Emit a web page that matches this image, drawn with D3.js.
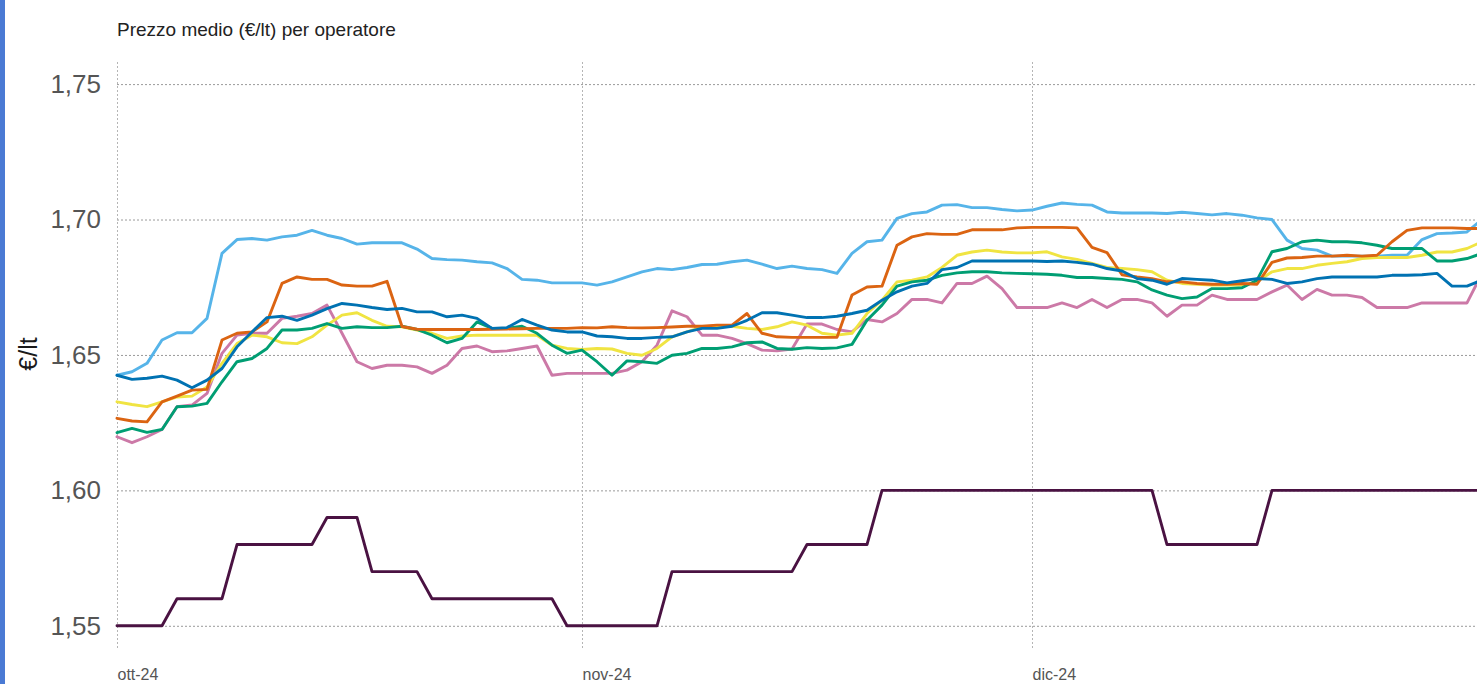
<!DOCTYPE html>
<html>
<head>
<meta charset="utf-8">
<script src="https://cdn.jsdelivr.net/npm/d3@7"></script>
<style>
  html, body { margin: 0; padding: 0; background: #fff; overflow: hidden; }
  svg { display: block; font-family: "Liberation Sans", Arial, sans-serif; }
</style>
</head>
<body>
<svg id="chart" width="1477" height="684"></svg>
<script>
// ---- Data (daily, 1 Oct 2024 onward) ----
const startDate = "2024-10-01";
const endDate = "2025-01-01";
const yTicks = [1.55, 1.60, 1.65, 1.70, 1.75];
const monthTicks = ["2024-10-01", "2024-11-01", "2024-12-01"];
const monthLabels = ["ott-24", "nov-24", "dic-24"];
const seriesNames = ["Operatore A", "Operatore B", "Operatore C", "Operatore D", "Operatore E", "Operatore F", "Pompe bianche"];
const seriesColors = ["#56B4E9", "#CC79A7", "#F0E442", "#009E73", "#DB6412", "#0072B2", "#4A1242"];

const skyValues = [1.6425,1.6438,1.6469,1.6555,1.6582,1.6582,1.6635,1.6875,1.6926,1.6930,
1.6924,1.6936,1.6942,1.6960,1.6942,1.6930,1.6909,1.6914,1.6914,1.6914,
1.6891,1.6856,1.6852,1.6850,1.6844,1.6840,1.6819,1.6779,1.6776,1.6766,
1.6766,1.6766,1.6758,1.6770,1.6788,1.6807,1.6819,1.6815,1.6823,1.6834,
1.6835,1.6844,1.6850,1.6835,1.6819,1.6828,1.6819,1.6815,1.6801,1.6875,
1.6918,1.6924,1.7004,1.7022,1.7028,1.7053,1.7055,1.7044,1.7044,1.7037,
1.7032,1.7035,1.7049,1.7061,1.7056,1.7053,1.7028,1.7024,1.7024,1.7024,
1.7022,1.7027,1.7022,1.7017,1.7022,1.7016,1.7006,1.7000,1.6924,1.6893,
1.6887,1.6865,1.6865,1.6865,1.6865,1.6868,1.6868,1.6926,1.6948,1.6950,
1.6954,1.7000];

const pinkValues = [1.6198,1.6176,1.6198,1.6225,1.6309,1.6315,1.6358,1.6506,1.6573,1.6580,
1.6580,1.6635,1.6643,1.6653,1.6684,1.6580,1.6475,1.6450,1.6462,1.6462,
1.6456,1.6432,1.6462,1.6524,1.6533,1.6512,1.6515,1.6524,1.6533,1.6425,
1.6432,1.6432,1.6432,1.6432,1.6444,1.6475,1.6536,1.6663,1.6641,1.6573,
1.6573,1.6561,1.6542,1.6518,1.6515,1.6522,1.6614,1.6614,1.6594,1.6585,
1.6631,1.6622,1.6653,1.6705,1.6705,1.6692,1.6764,1.6764,1.6791,1.6745,
1.6675,1.6675,1.6675,1.6692,1.6675,1.6705,1.6675,1.6705,1.6705,1.6692,
1.6643,1.6684,1.6684,1.6721,1.6705,1.6705,1.6705,1.6733,1.6758,1.6705,
1.6742,1.6721,1.6721,1.6712,1.6675,1.6675,1.6675,1.6692,1.6692,1.6692,
1.6692,1.6801];

const yellowValues = [1.6327,1.6317,1.6309,1.6327,1.6345,1.6348,1.6382,1.6469,1.6542,1.6573,
1.6567,1.6545,1.6542,1.6567,1.6610,1.6647,1.6656,1.6628,1.6606,1.6604,
1.6592,1.6580,1.6561,1.6570,1.6573,1.6573,1.6573,1.6573,1.6573,1.6536,
1.6524,1.6520,1.6524,1.6522,1.6506,1.6499,1.6524,1.6567,1.6585,1.6604,
1.6604,1.6606,1.6598,1.6594,1.6604,1.6622,1.6610,1.6580,1.6573,1.6580,
1.6653,1.6702,1.6770,1.6776,1.6788,1.6823,1.6868,1.6880,1.6887,1.6880,
1.6877,1.6877,1.6881,1.6862,1.6853,1.6838,1.6823,1.6819,1.6815,1.6807,
1.6776,1.6764,1.6761,1.6758,1.6758,1.6758,1.6770,1.6807,1.6819,1.6819,
1.6831,1.6838,1.6844,1.6856,1.6860,1.6860,1.6860,1.6868,1.6880,1.6880,
1.6893,1.6918];

const greenValues = [1.6213,1.6229,1.6214,1.6225,1.6309,1.6311,1.6321,1.6401,1.6475,1.6487,
1.6524,1.6592,1.6592,1.6598,1.6616,1.6598,1.6604,1.6601,1.6601,1.6606,
1.6594,1.6573,1.6545,1.6561,1.6622,1.6598,1.6598,1.6606,1.6580,1.6536,
1.6506,1.6518,1.6475,1.6425,1.6478,1.6475,1.6469,1.6499,1.6506,1.6524,
1.6524,1.6530,1.6545,1.6548,1.6524,1.6521,1.6527,1.6524,1.6526,1.6539,
1.6628,1.6684,1.6754,1.6770,1.6776,1.6794,1.6803,1.6807,1.6807,1.6803,
1.6801,1.6800,1.6798,1.6794,1.6786,1.6786,1.6782,1.6779,1.6770,1.6740,
1.6721,1.6708,1.6714,1.6745,1.6745,1.6748,1.6776,1.6881,1.6893,1.6918,
1.6924,1.6918,1.6918,1.6914,1.6905,1.6893,1.6893,1.6893,1.6847,1.6847,
1.6856,1.6875];

const orangeValues = [1.6266,1.6256,1.6253,1.6327,1.6348,1.6370,1.6373,1.6555,1.6580,1.6585,
1.6622,1.6764,1.6788,1.6779,1.6779,1.6758,1.6754,1.6754,1.6772,1.6605,
1.6595,1.6594,1.6594,1.6594,1.6594,1.6595,1.6596,1.6597,1.6598,1.6598,
1.6598,1.6601,1.6600,1.6604,1.6601,1.6600,1.6601,1.6603,1.6606,1.6606,
1.6610,1.6610,1.6653,1.6580,1.6567,1.6565,1.6565,1.6565,1.6565,1.6721,
1.6751,1.6754,1.6905,1.6936,1.6948,1.6945,1.6945,1.6962,1.6962,1.6962,
1.6969,1.6971,1.6971,1.6971,1.6969,1.6897,1.6878,1.6796,1.6788,1.6782,
1.6770,1.6770,1.6764,1.6761,1.6761,1.6764,1.6761,1.6842,1.6858,1.6860,
1.6865,1.6865,1.6868,1.6865,1.6868,1.6918,1.6960,1.6969,1.6969,1.6969,
1.6967,1.6967];

const blueValues = [1.6425,1.6410,1.6414,1.6422,1.6407,1.6379,1.6407,1.6450,1.6530,1.6585,
1.6638,1.6643,1.6628,1.6647,1.6671,1.6690,1.6684,1.6675,1.6668,1.6672,
1.6659,1.6659,1.6641,1.6647,1.6635,1.6598,1.6601,1.6631,1.6610,1.6592,
1.6585,1.6585,1.6570,1.6567,1.6561,1.6561,1.6565,1.6567,1.6585,1.6598,
1.6598,1.6606,1.6628,1.6656,1.6656,1.6647,1.6638,1.6638,1.6643,1.6653,
1.6665,1.6702,1.6733,1.6754,1.6764,1.6815,1.6823,1.6847,1.6847,1.6847,
1.6847,1.6847,1.6845,1.6847,1.6842,1.6835,1.6819,1.6810,1.6782,1.6776,
1.6761,1.6782,1.6779,1.6776,1.6766,1.6774,1.6782,1.6779,1.6764,1.6770,
1.6782,1.6788,1.6788,1.6788,1.6788,1.6794,1.6794,1.6796,1.6801,1.6754,
1.6754,1.6776];

const purpleValues = [1.55,1.55,1.55,1.55,1.56,1.56,1.56,1.56,1.58,1.58,
1.58,1.58,1.58,1.58,1.59,1.59,1.59,1.57,1.57,1.57,
1.57,1.56,1.56,1.56,1.56,1.56,1.56,1.56,1.56,1.56,
1.55,1.55,1.55,1.55,1.55,1.55,1.55,1.57,1.57,1.57,
1.57,1.57,1.57,1.57,1.57,1.57,1.58,1.58,1.58,1.58,
1.58,1.60,1.60,1.60,1.60,1.60,1.60,1.60,1.60,1.60,
1.60,1.60,1.60,1.60,1.60,1.60,1.60,1.60,1.60,1.60,
1.58,1.58,1.58,1.58,1.58,1.58,1.58,1.60,1.60,1.60,
1.60,1.60,1.60,1.60,1.60,1.60,1.60,1.60,1.60,1.60,
1.60,1.60];

const allValues = [skyValues, pinkValues, yellowValues, greenValues, orangeValues, blueValues, purpleValues];

// ---- Layout ----
const W = 1477, H = 684;
const plotLeft = 117, plotTop = 60, plotBottom = 648;

const parse = d3.utcParse("%Y-%m-%d");
const dates = d3.utcDay.range(parse(startDate), parse(endDate));

const x = d3.scaleUtc()
  .domain([parse(startDate), parse(endDate)])
  .range([plotLeft, plotLeft + 15 * dates.length]);

const y = d3.scaleLinear()
  .domain([1.5418, 1.7589])
  .range([plotBottom, plotTop]);

const svg = d3.select("#chart");

svg.append("rect").attr("x", 0).attr("y", 0).attr("width", W).attr("height", H).attr("fill", "#fff");
svg.append("rect").attr("x", 0).attr("y", 0).attr("width", 5).attr("height", H).attr("fill", "#4A7AD4");

// Title
svg.append("text")
  .attr("x", plotLeft).attr("y", 36)
  .attr("font-size", 19).attr("fill", "#222")
  .text("Prezzo medio (€/lt) per operatore");

// Horizontal grid + y labels via axis
const yAxis = d3.axisLeft(y)
  .tickValues(yTicks)
  .tickSize(-(W - plotLeft))
  .tickFormat(d => d3.format(".2f")(d).replace(".", ","));

const gy = svg.append("g").attr("transform", `translate(${plotLeft},0)`).call(yAxis);
gy.select(".domain").remove();
gy.selectAll(".tick line")
  .attr("stroke", "#9a9a9a").attr("stroke-width", 1).attr("stroke-dasharray", "2,2");
gy.selectAll(".tick text")
  .attr("x", -16).attr("font-size", 26).attr("fill", "#555")
  .attr("font-family", "'Liberation Sans', Arial, sans-serif");

// Vertical grid + x labels via axis
const xAxis = d3.axisBottom(x)
  .tickValues(monthTicks.map(parse))
  .tickSize(-(plotBottom - plotTop))
  .tickFormat((d, i) => monthLabels[i]);

const gx = svg.append("g").attr("transform", `translate(0,${plotBottom})`).call(xAxis);
gx.select(".domain").remove();
gx.selectAll(".tick line")
  .attr("stroke", "#b5b5b5").attr("stroke-width", 1).attr("stroke-dasharray", "2,2");
gx.selectAll(".tick text")
  .attr("text-anchor", "start").attr("x", 0).attr("y", 0).attr("dy", 32)
  .attr("font-size", 16).attr("fill", "#555")
  .attr("font-family", "'Liberation Sans', Arial, sans-serif");

// Y axis title
svg.append("text")
  .attr("transform", `translate(37,354) rotate(-90)`)
  .attr("text-anchor", "middle")
  .attr("font-size", 25).attr("fill", "#1a1a1a")
  .text("€/lt");

// Lines
const line = d3.line()
  .x((d, i) => x(dates[i]))
  .y(d => y(d));

const gLines = svg.append("g");
allValues.forEach((vals, k) => {
  gLines.append("path")
    .datum(vals)
    .attr("fill", "none")
    .attr("stroke", seriesColors[k])
    .attr("stroke-width", 2.9)
    .attr("stroke-linejoin", "round")
    .attr("stroke-linecap", "round")
    .attr("d", line)
    .append("title").text(seriesNames[k]);
});
</script>
</body>
</html>
